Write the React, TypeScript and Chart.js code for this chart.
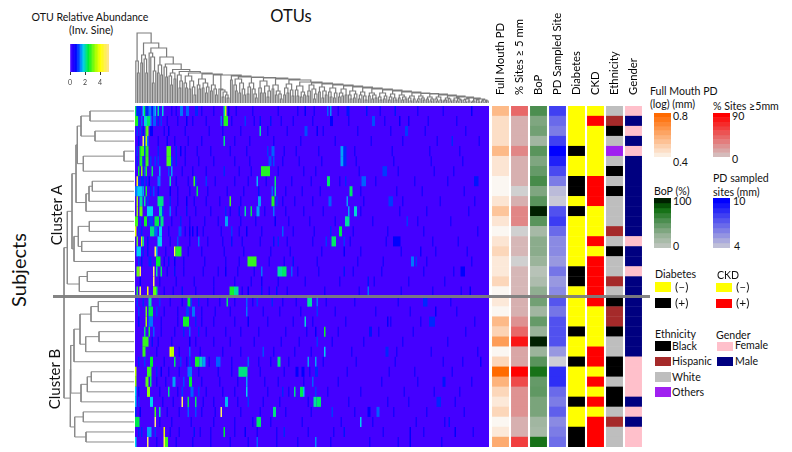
import React, { useEffect, useRef } from "react";
import { Chart, registerables } from "chart.js";

Chart.register(...registerables);

const FONT = 'Lato, "Noto Sans", sans-serif';
type Tree = number | any[];

/* ---------- heatmap data: [first OTU column, columns, inverse-sine abundance] ---------- */
const otuCount = 236;
const subjects = Array.from({ length: 34 }, (_, i) => "S" + (i + 1));
const heatRows: number[][][] = [
  [[0,1,2.2],[1,3,.9],[5,1,1.7],[6,1,2.3],[7,2,.9],[9,2,1.3],[11,1,.8],[12,1,1.3],[13,1,1.6],[15,1,2],[16,1,.9],[18,1,1.8],[30,2,1.3],[34,2,1.2],[40,2,.9],[59,1,2],[60,1,3.5],[62,1,.7],[113,1,.7],[128,1,1.2],[130,1,1.4],[141,2,.8],[154,1,.8],[173,1,.8],[224,1,.7]],
  [[0,2,2.6],[2,1,1],[4,1,1.2],[6,2,1.8],[8,2,2.2],[10,1,1.4],[12,2,1.2],[15,1,.9],[17,1,1],[34,1,.7],[57,1,1.3],[59,3,2.6],[73,1,1],[83,1,.8],[90,1,.8],[130,2,.7],[158,2,1.1],[176,1,.7],[182,1,.6]],
  [[1,1,1],[3,1,1],[5,1,.8],[7,1,2.8],[8,1,3],[10,2,.7],[22,1,.7],[83,1,2],[113,2,1.1],[121,1,.7],[180,2,1]],
  [[2,1,.8],[5,1,4.6],[6,1,1],[7,1,3.5],[8,1,1.3],[21,1,.6],[59,1,2.1],[211,1,.9]],
  [[1,1,1],[3,1,2.4],[4,2,2.8],[6,1,1],[7,2,2.6],[15,1,.9],[21,3,2.8],[27,1,.9],[30,1,.7],[88,1,1],[91,2,1.2],[137,2,1.5],[139,2,.9]],
  [[1,1,.9],[3,1,2.5],[4,1,2.7],[5,1,1],[7,2,2.7],[10,1,1],[13,1,1],[15,1,1],[21,3,2.8],[24,1,1],[27,1,.9],[89,2,1.1],[92,1,1.1],[137,2,1.5],[139,2,.9]],
  [[2,1,2.4],[4,1,3.2],[6,1,1.2],[7,1,2.6],[11,1,2.2],[16,1,1.5],[22,1,1.1],[24,1,1.5],[59,1,.9],[84,6,2.6],[165,3,1]],
  [[1,1,4],[2,1,1],[4,2,.9],[7,1,.9],[9,1,.7],[15,2,1.3],[23,1,2],[39,1,2.8],[40,1,1],[47,1,1],[81,1,1.6],[93,1,2.2],[128,2,2.2],[140,1,.9],[151,3,1.2],[226,3,.8]],
  [[0,1,1.3],[1,1,1.6],[2,3,1.7],[5,1,1.5],[7,1,2.5],[10,1,.9],[12,1,1.1],[15,1,.8],[23,1,.7],[41,1,2.3],[82,1,.8],[91,1,1.2],[93,1,2],[143,2,2.2]],
  [[1,1,3.4],[3,2,2],[6,1,2],[8,1,1],[15,4,2.1],[23,1,.9],[34,1,.7],[63,1,2.8],[82,2,1.5],[91,2,2.6],[94,1,1],[129,2,1.2],[141,1,1.5],[169,3,1]],
  [[1,1,3.3],[3,2,3],[8,4,1.7],[16,2,2],[18,1,1],[23,1,1.3],[34,1,.8],[60,1,.9],[69,1,.8],[73,1,2],[77,1,2.3],[81,2,1.5],[92,1,1.3],[142,1,1.5],[146,2,1.8]],
  [[0,2,2.8],[3,1,1],[6,2,2.5],[9,3,1],[13,3,2.3],[17,2,2.1],[30,1,.9],[60,2,1.5],[93,1,.7],[140,3,2],[181,1,1]],
  [[0,1,3.8],[2,1,1],[4,1,.9],[10,3,2.1],[13,2,1.2],[16,2,1.7],[29,2,1.1],[36,1,.7],[38,1,.7],[41,1,.7],[64,1,1],[74,1,.7],[98,1,1.2],[130,1,.9],[136,2,2.3]],
  [[1,1,3],[4,1,3.6],[5,1,2],[8,1,.8],[15,3,1.7],[28,1,1.1],[42,1,1.3],[64,1,.8],[92,1,.8],[95,1,.9],[127,1,1],[131,3,2.2],[139,1,1],[172,5,.7]],
  [[1,3,1.7],[5,1,.9],[8,1,.8],[13,1,4.5],[14,1,1.6],[26,1,4.5],[27,4,2.6],[139,1,.7],[190,1,.6]],
  [[2,1,1],[4,1,.8],[9,2,.9],[14,3,2.4],[22,1,.8],[26,1,.7],[75,6,2.7],[105,1,.8],[184,2,1.3],[187,1,1]],
  [[1,2,3],[3,1,4.6],[12,1,4.8],[14,1,2],[17,1,2.2],[26,1,.8],[60,1,.7],[84,1,1.3],[95,3,2],[98,3,2.2],[104,1,1.2],[139,1,.8],[217,3,.7]],
  [[3,1,.7],[12,1,4.7],[84,1,.6],[155,1,.8]],
  [[1,1,2.6],[3,1,4.6],[8,1,4],[12,2,3],[14,1,2.2],[31,1,.8],[63,3,2.5],[66,3,2],[75,1,.7],[84,1,.8],[94,1,.8],[155,1,1.3],[223,1,.7]],
  [[1,1,1],[5,1,.9],[9,2,2],[16,1,1],[35,2,2.4],[37,1,1],[42,1,.9],[61,1,2.2],[74,1,1.2],[81,1,1],[91,1,.9],[115,1,2.2],[115,3,2],[121,1,1.3],[192,3,.9]],
  [[2,1,1],[7,1,3],[9,3,2.3],[14,1,1],[34,2,1],[38,2,1.3],[74,1,1.3],[121,1,1],[200,1,.7]],
  [[2,1,.8],[7,1,3.3],[9,3,1.3],[32,4,2.5],[40,1,.9],[75,1,.7],[113,1,1.8],[168,1,.7],[196,4,.9]],
  [[6,1,2.2],[9,1,2.5],[12,1,1.2],[32,1,.9],[36,1,1.2],[42,1,.9],[120,1,.7],[126,1,2.5],[156,2,.8]],
  [[5,4,2.7],[11,1,.8],[36,1,.7],[121,1,1]],
  [[5,2,2.7],[23,1,3.8],[24,2,3.5],[36,1,1.2],[85,1,1.1],[126,1,1.7],[167,2,.9]],
  [[2,1,.9],[6,1,1],[10,2,2.4],[26,1,2.2],[30,1,1],[36,1,1],[40,3,2.5],[43,2,1.9],[45,2,1.5],[54,3,1.2],[75,1,1.2],[95,2,2.1],[115,1,1.5],[120,1,1.5],[230,1,.6]],
  [[0,1,3.5],[8,3,2.7],[14,1,.9],[17,1,.7],[35,3,1.3],[69,6,2.1],[107,2,.7],[111,2,.7],[120,2,.9]],
  [[0,1,3.2],[7,2,2.9],[10,1,2.2],[25,2,1.5],[32,1,1.1],[36,2,2.4],[74,1,1.5],[118,1,1.2],[205,2,.8]],
  [[0,1,1.7],[2,1,.8],[8,2,3.2],[22,1,2.1],[31,1,1],[37,2,1.2],[42,1,1],[74,1,1.7],[98,1,.9],[106,1,2.1],[110,2,2.3],[112,1,1.6],[120,1,1]],
  [[0,1,1.6],[2,1,1],[10,2,1.7],[31,1,4.7],[35,1,2.3],[40,1,2.2],[60,2,1.6],[75,1,1],[119,2,2],[121,3,2.2],[201,3,.9]],
  [[0,1,.9],[3,1,.7],[13,1,2.8],[16,1,2],[35,1,1.2],[40,1,1.1],[57,1,4.7],[92,2,2.1],[131,1,1],[155,2,.7],[161,2,1.2]],
  [[0,3,2.3],[13,1,4.9],[81,3,2.2],[150,1,1.7],[209,1,.8]],
  [[2,1,.9],[4,1,.9],[8,3,1.5],[13,1,1],[19,1,3.8],[39,1,.8],[59,1,2.4],[73,1,.7],[99,1,.9],[139,1,.8],[183,1,.7],[213,1,.7]],
  [[0,1,1.7],[8,1,4.7],[19,1,4.5],[20,2,2.8],[81,1,1.2],[120,1,1.4],[183,1,.7]],
];
const faintRows: number[][] = [
  [24,27,44,52,67,78,95,108,119,135,163,188,205],
  [21,28,38,47,64,79,97,105,118,142,166,195,214],
  [19,33,49,58,70,88,101,125,148,170,193,220],
  [15,26,35,44,66,76,92,110,133,157,178,201,229],
  [33,41,50,63,74,99,107,122,146,171,196,216],
  [33,42,52,66,76,98,109,124,147,172,197,218],
  [31,38,47,69,77,95,112,120,149,175,199,212],
  [27,35,53,66,75,87,104,117,136,160,186,208],
  [28,36,48,61,72,100,111,123,150,174,191,219],
  [28,39,47,56,70,98,106,118,152,178,203,226],
  [27,40,50,63,86,100,112,125,150,176,194,222],
  [24,36,46,55,70,80,102,116,133,158,188,210],
  [22,33,45,57,69,84,105,119,145,168,192,228],
  [23,36,48,58,71,83,101,118,143,167,198,215],
  [20,35,44,59,72,90,103,124,150,177,200,221],
  [19,32,46,60,69,89,99,121,148,165,194,224],
  [21,32,45,55,68,79,108,122,145,164,192,212],
  [16,27,39,52,66,77,95,113,136,159,182,206],
  [19,25,40,52,71,89,101,126,149,177,198,217],
  [23,31,48,56,66,78,98,107,127,146,175,210],
  [19,28,44,53,63,85,96,110,133,160,183,214],
  [17,28,44,52,66,88,105,118,140,170,190,226],
  [17,26,47,60,70,82,100,114,135,162,185,220],
  [15,24,40,52,63,79,97,109,131,152,178,208],
  [14,29,43,58,70,92,106,117,144,174,197,228],
  [19,34,49,64,82,90,102,125,147,173,205,218],
  [22,29,42,55,64,83,99,116,141,169,186,211],
  [14,20,44,56,68,86,95,112,135,164,188,224],
  [16,28,47,58,66,88,102,128,150,179,199,216],
  [18,25,45,52,68,85,96,115,142,168,182,213],
  [21,29,44,53,70,83,100,117,146,172,194,219],
  [16,24,37,52,66,78,90,111,137,158,187,206],
  [23,29,43,50,66,81,94,115,132,165,192,225],
  [14,27,38,50,63,75,94,108,130,156,175,204],
];

/* ---------- annotation tracks ---------- */
const trackNames = ["Full Mouth PD", "% Sites \u2265 5 mm", "BoP", "PD Sampled Site", "Diabetes", "CKD", "Ethnicity", "Gender"];
const fullMouthPD = [.58,.48,.48,.48,.58,.46,.46,.41,.41,.46,.55,.46,.41,.46,.5,.45,.45,.5,.41,.45,.41,.58,.51,.66,.41,.5,.8,.6,.5,.45,.5,.41,.45,.62];
const sitesOver5 = [45,14,14,14,32,14,14,14,0,14,32,32,0,11,11,0,11,11,11,14,14,27,45,81,18,18,90,58,27,27,27,14,14,63];
const bop = [60,40,45,25,55,40,50,62,40,55,100,55,22,35,35,28,12,18,33,45,25,50,30,100,28,55,80,50,52,42,42,25,22,80];
const pdSampled = [8.2,7,6.5,8.2,10,9.1,7.9,6.5,4.7,4.3,7.7,8.3,7,6.1,6.1,5.7,6.7,5.7,6.1,7.6,6.7,7.7,7.7,7.7,5.7,4.2,8.7,8.7,7,6.5,7.3,6.1,6.5,6.9];
const diabetes = [0,0,0,0,1,0,0,1,1,0,1,0,0,0,0,0,1,1,0,0,0,0,1,0,0,1,0,0,0,1,0,0,1,1];
const ckd = [0,1,0,0,0,0,0,1,1,1,0,0,0,1,0,1,1,1,1,1,0,0,0,0,1,1,0,1,0,1,0,1,1,1];
const ethnicity = ["W","H","B","W","O","W","B","W","B","W","W","W","H","W","B","W","W","H","W","B","H","H","B","W","W","B","B","W","B","B","W","H","W","W"];
const gender = ["F","M","F","M","F","M","M","M","M","M","M","M","M","F","M","M","F","M","M","M","M","M","M","M","M","F","F","F","F","M","F","M","F","F"];

/* ---------- legends ---------- */
const heatKeyValues = [0,.2,.4,.6,.8,1,1.2,1.4,1.6,1.8,2,2.2,2.4,2.6,2.8,3,3.2,3.4,3.6,3.8,4,4.2,4.4,4.6,4.8,5];
const fullMouthKey = [.4,.44,.48,.52,.56,.6,.64,.68,.72,.76];
const sitesKey = [0,9,18,27,36,45,54,63,72,81];
const bopKey = [0,10,20,30,40,50,60,70,80,90];
const pdKey = [4,4.6,5.2,5.8,6.4,7,7.6,8.2,8.8,9.4];
const ethnicityColors: Record<string, string> = { B: "#000000", H: "#a52a2a", W: "#bebebe", O: "#a020f0" };
const genderColors: Record<string, string> = { F: "#ffc0cb", M: "#000080" };
const diabetesColors = ["#ffff00", "#000000"];
const ckdColors = ["#ffff00", "#ff0000"];

/* ---------- dendrograms: [merge height, child, child]; 0 is a leaf ---------- */
const subjectTree: Tree = [70,
  [66.7,[62,[58,[56.7,[53,[44,0,0],[39,0,0]],[50.7,[10,0,0],0]],[48,[45,[41.7,0,0],0],0]],[60,[55.7,[44.7,0,0],[52.3,0,0]],0]],[54.7,[46.7,0,0],0]],
  [63.7,[63.3,[60,[54,[43,[35.7,0,0],0],[48.3,[35,0,0],0]],0],[53,[46.7,[42.7,0,0],0],0]],[59.3,[50.7,0,0],[48,0,0]]],
];
const otuTailClades: Tree[] = [
  [24,[18,0,[12,0,0]],[20,[10,0,0],[14,0,[8,0,0]]]],
  [20,[16,[9,0,0],0],[14,0,[9,0,[5,0,0]]]],
  [22,[15,0,[10,0,0]],[17,[10,0,0],[12,[6,0,0],0]]],
  [18,[14,0,0],[12,[8,0,0],[9,0,[4,0,0]]]],
  [19,[15,[8,0,0],[10,0,0]],[13,0,[7,0,0]]],
  [17,[13,0,[7,0,0]],[11,[6,0,0],[8,0,0]]],
  [18,[12,[7,0,0],0],[14,0,[9,[4,0,0],0]]],
  [16,[11,0,0],[12,[5,0,0],[8,0,0]]],
  [15,[11,0,[6,0,0]],[10,[5,0,0],0]],
  [14,[10,[6,0,0],[7,0,0]],[8,0,0]],
  [12,[8,0,[4,0,0]],[9,[5,0,0],0]],
  [11,[8,[4,0,0],0],[7,0,[3,0,0]]],
  [10,[7,0,0],[8,[4,0,0],[5,0,0]]],
  [10,[6,0,[3,0,0]],[7,[4,0,0],0]],
  [9,[6,[3,0,0],0],[5,0,[3,0,0]]],
  [8,[5,0,0],[6,[3,0,0],[4,0,0]]],
  [7,[5,0,[2,0,0]],[4,0,0]],
  [7,[4,[2,0,0],0],[5,0,[3,0,0]]],
  [6,[4,0,0],[4,[2,0,0],0]],
  [6,[4,0,[2,0,0]],[3,0,0]],
  [5,[3,[2,0,0],0],[4,0,[2,0,0]]],
  [5,[3,0,0],[4,[2,0,0],[3,0,0]]],
  [4,[3,0,[1,0,0]],[2,0,0]],
  [4,[2,[1,0,0],0],[3,0,[1,0,0]]],
  [3,[2,0,0],[2,[1,0,0],0]],
];
const otuTailSpine = [26,25.5,25,24,23,21,20,19,18,17,16,15,14,13,12,11,10,9.5,9,8,7,6,5,4];
const otuHeadClades: Tree[] = [
  [42,0,[30,0,0]],
  [48,[40,0,0],[44,0,[30,0,0]]],
  [50,0,[46,0,[32,[20,0,0],0]]],
  [38,[30,0,0],[28,0,0]],
  [36,0,[26,0,0]],
  [30,[27,0,[18,0,0]],[24,0,0]],
  [28,0,[22,[15,0,0],0]],
  [27,[20,0,[15,0,0]],[22,[14,0,0],[16,0,[8,0,0]]]],
  [24,[18,0,[14,0,0]],[20,[15,0,0],[16,[10,0,0],0]]],
  [18,[12,0,0],[14,0,[8,0,0]]],
  [14,0,[13,0,[11,[6,0,0],[8,0,[5,0,0]]]]],
];
const otuHeadSpine = [70,60,55,46,39,33.5,31.5,30,29,28];

/* ---------- colour ramps ---------- */
type Stop = [number, string];
const heatStops: Stop[] = [[0,"#4400ff"],[.7,"#0000ff"],[1.2,"#0060ff"],[1.7,"#00d0f0"],[2.4,"#00f030"],[3.3,"#a0ff00"],[4,"#ffff00"],[5.2,"#ffe0a0"]];
const fullMouthStops: Stop[] = [[.4,"#fbfbf8"],[.8,"#ff6a00"]];
const sitesStops: Stop[] = [[0,"#d0d0d0"],[90,"#ff0000"]];
const bopStops: Stop[] = [[0,"#cccccc"],[30,"#98b298"],[60,"#4c8e50"],[85,"#0a6b0a"],[100,"#002000"]];
const pdStops: Stop[] = [[4,"#d4d4d4"],[10,"#0000ff"]];

function ramp(stops: Stop[], v: number): string {
  const rgb = (h: string) => [1, 3, 5].map((i) => parseInt(h.slice(i, i + 2), 16));
  if (v <= stops[0][0]) return stops[0][1];
  for (let i = 1; i < stops.length; i++) {
    if (v <= stops[i][0]) {
      const t = (v - stops[i - 1][0]) / (stops[i][0] - stops[i - 1][0]);
      const a = rgb(stops[i - 1][1]);
      const b = rgb(stops[i][1]);
      return `rgb(${a.map((c, k) => Math.round(c + (b[k] - c) * t)).join(",")})`;
    }
  }
  return stops[stops.length - 1][1];
}

function treeSegments(root: Tree) {
  let next = 0;
  const pts: { x: number; y: number }[] = [];
  const walk = (n: Tree): { pos: number; h: number } => {
    if (!Array.isArray(n)) return { pos: next++ + 0.5, h: 0 };
    const a = walk(n[1]);
    const b = walk(n[2]);
    pts.push({ x: a.pos, y: a.h }, { x: a.pos, y: n[0] }, { x: b.pos, y: n[0] }, { x: b.pos, y: b.h }, { x: NaN, y: NaN });
    return { pos: (a.pos + b.pos) / 2, h: n[0] };
  };
  walk(root);
  return { pts, leaves: next };
}

function buildOtuTree(): Tree {
  let t: Tree = otuTailClades[otuTailClades.length - 1];
  for (let i = otuTailClades.length - 2; i >= 0; i--) t = [otuTailSpine[i], otuTailClades[i], t];
  t = [27, [23, 0, 0], t];
  t = [28, otuHeadClades[otuHeadClades.length - 1], t];
  for (let i = otuHeadClades.length - 2; i >= 0; i--) t = [otuHeadSpine[i], otuHeadClades[i], t];
  return t;
}

const base: any = {
  responsive: false,
  animation: false,
  layout: { padding: 0 },
  plugins: { legend: { display: false }, tooltip: { enabled: false } },
};
const hidden = { display: false };

function Label(p: { x: number; y: number; size: number; rot?: boolean; center?: boolean; children: any }) {
  const shift = p.rot || p.center ? "translate(-50%,-50%)" : "translateY(-50%)";
  return (
    <span
      style={{
        position: "absolute",
        left: p.x,
        top: p.y,
        fontFamily: FONT,
        fontSize: p.size,
        lineHeight: 1,
        whiteSpace: "nowrap",
        color: "#111",
        transform: shift + (p.rot ? " rotate(-90deg)" : ""),
      }}
    >
      {p.children}
    </span>
  );
}

function Swatch(p: { x: number; y: number; w?: number; h?: number; color: string }) {
  return <div style={{ position: "absolute", left: p.x, top: p.y, width: p.w ?? 16, height: p.h ?? 9.5, background: p.color }} />;
}

function Panel(p: { id: string; x: number; y: number; w: number; h: number; reg: (id: string, c: HTMLCanvasElement | null) => void; blur?: boolean; bg?: string }) {
  return (
    <canvas
      ref={(c) => p.reg(p.id, c)}
      width={p.w}
      height={p.h}
      style={{ position: "absolute", left: p.x, top: p.y, width: p.w, height: p.h, background: p.bg, filter: p.blur ? "blur(0.5px)" : undefined }}
    />
  );
}

export default function App() {
  const refs = useRef<Record<string, HTMLCanvasElement | null>>({});
  const reg = (id: string, c: HTMLCanvasElement | null) => {
    if (c) refs.current[id] = c;
  };

  useEffect(() => {
    const charts: Chart[] = [];
    const make = (id: string, cfg: any) => charts.push(new Chart(refs.current[id] as HTMLCanvasElement, cfg));

    /* heatmap */
    const cells: any[] = [];
    const cellColors: string[] = [];
    const add = (row: number, c: number, w: number, v: number) => {
      cells.push({ x: [c, c + w], y: subjects[row] });
      cellColors.push(ramp(heatStops, v));
    };
    subjects.forEach((_, r) => add(r, 0, otuCount, 0));
    faintRows.forEach((cols, r) => cols.forEach((c) => add(r, c, 1, 0.45)));
    heatRows.forEach((row, r) => row.forEach(([c, w, v]) => add(r, c, w, v)));
    make("heat", {
      type: "bar",
      data: { labels: subjects, datasets: [{ data: cells, backgroundColor: cellColors, grouped: false, barPercentage: 1, categoryPercentage: 1, borderWidth: 0, inflateAmount: 0 }] },
      options: { ...base, indexAxis: "y", scales: { x: { ...hidden, min: 0, max: otuCount }, y: hidden } },
    });

    /* annotation tracks */
    const tCells: any[] = [];
    const tColors: string[] = [];
    const trackValue = (t: number, r: number): string => {
      switch (t) {
        case 0: return ramp(fullMouthStops, fullMouthPD[r]);
        case 1: return ramp(sitesStops, sitesOver5[r]);
        case 2: return ramp(bopStops, bop[r]);
        case 3: return ramp(pdStops, pdSampled[r]);
        case 4: return diabetesColors[diabetes[r]];
        case 5: return ckdColors[ckd[r]];
        case 6: return ethnicityColors[ethnicity[r]];
        default: return genderColors[gender[r]];
      }
    };
    trackNames.forEach((name, t) =>
      subjects.forEach((_, r) => {
        tCells.push({ x: name, y: [r, r + 1] });
        tColors.push(trackValue(t, r));
      })
    );
    make("tracks", {
      type: "bar",
      data: { labels: trackNames, datasets: [{ data: tCells, backgroundColor: tColors, grouped: false, barPercentage: 1, categoryPercentage: 0.87, borderWidth: 0, inflateAmount: 0.2 }] },
      options: {
        ...base,
        scales: {
          x: {
            position: "top",
            grid: { display: false },
            border: { display: false },
            ticks: { autoSkip: false, maxRotation: 90, minRotation: 90, padding: 3, labelOffset: 13.5, color: "#000", font: { family: FONT, size: 11.3 } },
            afterFit: (s: any) => {
              s.height = 96;
              s.paddingLeft = 0;
              s.paddingRight = 0;
            },
          },
          y: { ...hidden, reverse: true, min: 0, max: subjects.length },
        },
      },
    });

    /* dendrograms */
    const top = treeSegments(buildOtuTree());
    make("topTree", {
      type: "line",
      data: { datasets: [{ data: top.pts, borderColor: "#7c7c7c", borderWidth: 1.2, pointRadius: 0, spanGaps: false, tension: 0 }] },
      options: { ...base, scales: { x: { ...hidden, type: "linear", min: 0, max: top.leaves }, y: { ...hidden, min: 0, max: 74 } } },
    });
    const left = treeSegments(subjectTree);
    make("leftTree", {
      type: "line",
      data: { datasets: [{ data: left.pts.map((p) => ({ x: p.y, y: p.x })), borderColor: "#8a8a8a", borderWidth: 1, pointRadius: 0, spanGaps: false, tension: 0 }] },
      options: { ...base, scales: { x: { ...hidden, type: "linear", reverse: true, min: 0, max: 74 }, y: { ...hidden, reverse: true, min: 0, max: left.leaves } } },
    });

    /* OTU colour key */
    make("heatKey", {
      type: "bar",
      data: {
        labels: ["key"],
        datasets: [{
          data: heatKeyValues.map((v) => ({ x: [v, v + 0.2], y: "key" })),
          backgroundColor: heatKeyValues.map((v) => ramp(heatStops, v)),
          grouped: false, barPercentage: 1, categoryPercentage: 1, borderWidth: 0, inflateAmount: 0.3,
        }],
      },
      options: {
        ...base,
        indexAxis: "y",
        layout: { padding: { left: 6, right: 6 } },
        scales: {
          x: {
            min: 0, max: 5.2,
            border: { display: false },
            grid: { drawOnChartArea: false, tickLength: 3, color: "#333" },
            ticks: { stepSize: 2, includeBounds: false, padding: 4, maxRotation: 0, color: "#444", font: { family: FONT, size: 7 } },
            afterFit: (s: any) => { s.height = 18; },
          },
          y: hidden,
        },
      },
    });

    /* continuous keys */
    const keyChart = (id: string, values: number[], step: number, stops: Stop[]) =>
      make(id, {
        type: "bar",
        data: {
          labels: ["key"],
          datasets: [{
            data: values.map((v) => ({ x: "key", y: [v, v + step] })),
            backgroundColor: values.map((v) => ramp(stops, v + step)),
            grouped: false, barPercentage: 1, categoryPercentage: 1, borderWidth: 0, inflateAmount: 0.2,
          }],
        },
        options: { ...base, scales: { x: hidden, y: { ...hidden, min: values[0], max: values[values.length - 1] + step } } },
      });
    keyChart("fullKey", fullMouthKey, 0.04, fullMouthStops);
    keyChart("sitesKey", sitesKey, 9, sitesStops);
    keyChart("bopKey", bopKey, 10, bopStops);
    keyChart("pdKey", pdKey, 0.6, pdStops);

    return () => charts.forEach((c) => c.destroy());
  }, []);

  return (
    <div style={{ position: "fixed", left: 0, top: 0, width: 792, height: 452, background: "#fff", overflow: "hidden" }}>
      <Panel id="topTree" x={135} y={29} w={354} h={74} reg={reg} />
      <Panel id="leftTree" x={60} y={106} w={74} h={341} reg={reg} />
      <Panel id="heat" x={135} y={106} w={354} h={341} reg={reg} blur bg={ramp(heatStops, 0)} />
      <Panel id="tracks" x={491} y={10} w={152} h={437} reg={reg} />
      <Panel id="heatKey" x={64} y={44} w={51} h={46} reg={reg} />
      <Panel id="fullKey" x={654} y={113} w={17} h={44} reg={reg} />
      <Panel id="sitesKey" x={713} y={113} w={17} h={44} reg={reg} />
      <Panel id="bopKey" x={654} y={198} w={17} h={50} reg={reg} />
      <Panel id="pdKey" x={713} y={198} w={17} h={50} reg={reg} />

      <div style={{ position: "absolute", left: 53, top: 295, width: 597, height: 2.5, background: "rgba(125,125,125,0.95)" }} />

      <Label x={90} y={17} size={10.6} center>OTU Relative Abundance</Label>
      <Label x={91} y={30} size={10.6} center>(Inv. Sine)</Label>
      <Label x={291} y={16} size={16.5} center>OTUs</Label>
      <Label x={18} y={270} size={20} rot>Subjects</Label>
      <Label x={56} y={215} size={15} rot>Cluster A</Label>
      <Label x={54} y={379} size={15} rot>Cluster B</Label>

      <Label x={650} y={91} size={10.6}>Full Mouth PD</Label>
      <Label x={650} y={104} size={10.6}>(log) (mm)</Label>
      <Label x={713} y={106} size={10.6}>% Sites ≥5mm</Label>
      <Label x={673} y={116} size={10.6}>0.8</Label>
      <Label x={673} y={162} size={10.6}>0.4</Label>
      <Label x={732} y={116} size={10.6}>90</Label>
      <Label x={732} y={159} size={10.6}>0</Label>
      <Label x={654} y={191} size={10.6}>BoP (%)</Label>
      <Label x={713} y={178} size={10.6}>PD sampled</Label>
      <Label x={713} y={192} size={10.6}>sites (mm)</Label>
      <Label x={673} y={201} size={10.6}>100</Label>
      <Label x={673} y={246} size={10.6}>0</Label>
      <Label x={733} y={201} size={10.6}>10</Label>
      <Label x={734} y={246} size={10.6}>4</Label>

      <Label x={655} y={274} size={10.6}>Diabetes</Label>
      <Swatch x={655} y={282} color={diabetesColors[0]} />
      <Swatch x={655} y={298} color={diabetesColors[1]} />
      <Label x={675} y={287} size={12}>(–)</Label>
      <Label x={675} y={303} size={12}>(+)</Label>
      <Label x={717} y={275} size={10.6}>CKD</Label>
      <Swatch x={716} y={282.5} color={ckdColors[0]} />
      <Swatch x={716} y={298.5} color={ckdColors[1]} />
      <Label x={736} y={287} size={12}>(–)</Label>
      <Label x={736} y={303} size={12}>(+)</Label>

      <Label x={655} y={334} size={10.6}>Ethnicity</Label>
      <Swatch x={655} y={341} color={ethnicityColors.B} />
      <Swatch x={655} y={356.5} color={ethnicityColors.H} />
      <Swatch x={655} y={372} color={ethnicityColors.W} />
      <Swatch x={655} y={387} color={ethnicityColors.O} />
      <Label x={672} y={346} size={10.6}>Black</Label>
      <Label x={672} y={361} size={10.6}>Hispanic</Label>
      <Label x={672} y={377} size={10.6}>White</Label>
      <Label x={672} y={392} size={10.6}>Others</Label>
      <Label x={716} y={335} size={10.6}>Gender</Label>
      <Swatch x={717} y={341.5} color={genderColors.F} />
      <Swatch x={717} y={356.5} color={genderColors.M} />
      <Label x={735} y={345} size={10.6}>Female</Label>
      <Label x={735} y={361} size={10.6}>Male</Label>
    </div>
  );
}
